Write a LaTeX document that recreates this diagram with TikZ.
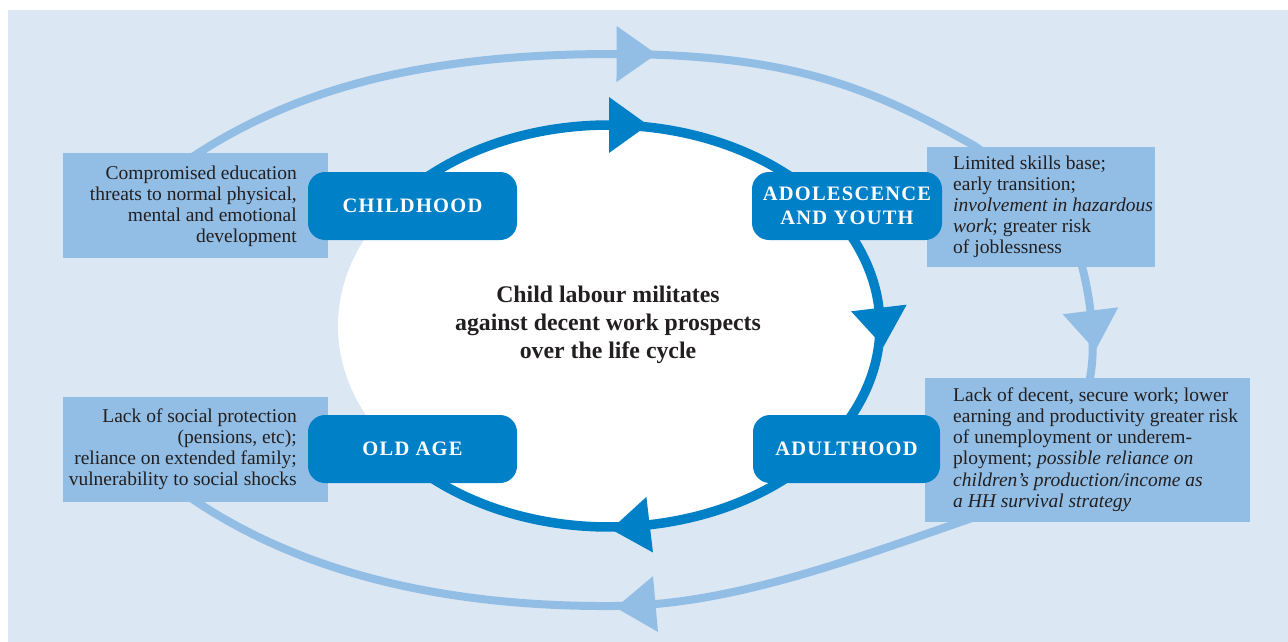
\documentclass[tikz,border=0pt]{standalone}
\usepackage{fontspec}
\setmainfont{Liberation Serif}
\usetikzlibrary{decorations.markings,calc,shapes.geometric}
\definecolor{bgblue}{RGB}{220,231,244}
\definecolor{lightblue}{RGB}{146,190,229}
\definecolor{darkblue}{RGB}{0,128,198}
\definecolor{inkcol}{RGB}{35,31,32}
\begin{document}
\begin{tikzpicture}[x=1pt,y=-1pt,
  outerarc/.style={draw=lightblue,line width=8pt},
  innerarc/.style={draw=darkblue,line width=9.5pt},
  outerarrow/.style={postaction={decorate},decoration={markings,mark=at position #1 with {\fill[lightblue] (0,28) -- (40,0) -- (0,-28) -- cycle;}}},
  innerarrow/.style={postaction={decorate},decoration={markings,mark=at position #1 with {\fill[darkblue] (0,28) -- (39,0) -- (0,-28) -- cycle;}}},
  stagebox/.style={fill=darkblue,rounded corners=17pt,minimum height=68pt,inner sep=0pt,text=white,align=center,
    font=\fontsize{20.5}{24}\selectfont\bfseries\addfontfeature{LetterSpace=6}},
  infobox/.style={fill=lightblue,inner sep=0pt},
  infotext/.style={text=inkcol,inner sep=0pt,font=\fontsize{19.5}{21}\selectfont},
]
\useasboundingbox (0,0) rectangle (1288,642);
\fill[bgblue] (8,10) rectangle (1288,642);

% outer cycle connectors (ends hidden behind the information boxes)
\coordinate (o1s) at (185,162);
\coordinate (o1m) at (613,54);
\coordinate (o1e) at (973,145);
\coordinate (o1x) at (995,160);
\coordinate (o2s) at (1079,255);
\coordinate (o2e) at (1087,390);
\coordinate (o3s) at (975,517);
\coordinate (o3m) at (613,606);
\coordinate (o3e) at (188,496);
\draw[outerarc,outerarrow=452pt] (o1s) .. controls (290,90) and (420,54) .. (o1m)
   .. controls (793,54) and (873,89) .. (o1e) -- (o1x);
\draw[outerarc,outerarrow=57pt] (o2s) .. controls (1092,300) and (1098,355) .. (o2e);
\draw[outerarc,outerarrow=332pt] (o3s) .. controls (853,559) and (730,606) .. (o3m)
   .. controls (455,607) and (305,577) .. (o3e);

% information boxes
\node[infobox,minimum width=265pt,minimum height=105pt] (cbox) at (195.5,205.5) {};
\node[infobox,minimum width=228pt,minimum height=120pt] (abox) at (1041,207) {};
\node[infobox,minimum width=325pt,minimum height=144pt] (dbox) at (1087.5,450) {};
\node[infobox,minimum width=265pt,minimum height=105pt] (obox) at (195.5,449.5) {};

% central white ellipse
\node[ellipse,fill=white,minimum width=542pt,minimum height=402pt,inner sep=0pt] (core) at (609,326) {};

% inner cycle connectors
\draw[innerarc,innerarrow=0.5] plot[domain=-135:-45,samples=80,variable=\t] ({609+271*cos(\t)},{326+201*sin(\t)});
\draw[innerarc,innerarrow=0.417] plot[domain=-30:30,samples=60,variable=\t] ({609+271*cos(\t)},{326+201*sin(\t)});
\draw[innerarc,innerarrow=0.40] plot[domain=45:135,samples=80,variable=\t] ({609+271*cos(\t)},{326+201*sin(\t)});

% stage boxes
\node[stagebox,minimum width=209pt] (child) at (412.5,206) {CHILDHOOD};
\node[stagebox,minimum width=190pt] (adol) at (847,206) {ADOLESCENCE\\AND YOUTH};
\node[stagebox,minimum width=187pt] (adult) at (846.5,449) {ADULTHOOD};
\node[stagebox,minimum width=209pt] (old) at (412.5,449) {OLD AGE};

% texts
\node[infotext,align=right,anchor=east] (ctxt) at (297,206) {Compromised education\\threats to normal physical,\\mental and emotional\\development};
\node[infotext,align=left,anchor=west] (atxt) at (953,206.5) {Limited skills base;\\early transition;\\\textit{involvement in hazardous}\\\textit{work}; greater risk\\of joblessness};
\node[infotext,align=left,anchor=west,font=\fontsize{19.5}{21.2}\selectfont] (dtxt) at (953,449.5) {Lack of decent, secure work; lower\\earning and productivity greater risk\\of unemployment or underem-\\ployment; \textit{possible reliance on}\\\textit{children’s production/income as}\\\textit{a HH survival strategy}};
\node[infotext,align=right,anchor=east] (otxt) at (297,449.5) {Lack of social protection\\(pensions, etc);\\reliance on extended family;\\vulnerability to social shocks};

\node[text=inkcol,align=center,inner sep=0pt,font=\fontsize{23.8}{28}\selectfont\bfseries] (title) at (608,325) {Child labour militates\\against decent work prospects\\over the life cycle};
\end{tikzpicture}
\end{document}
